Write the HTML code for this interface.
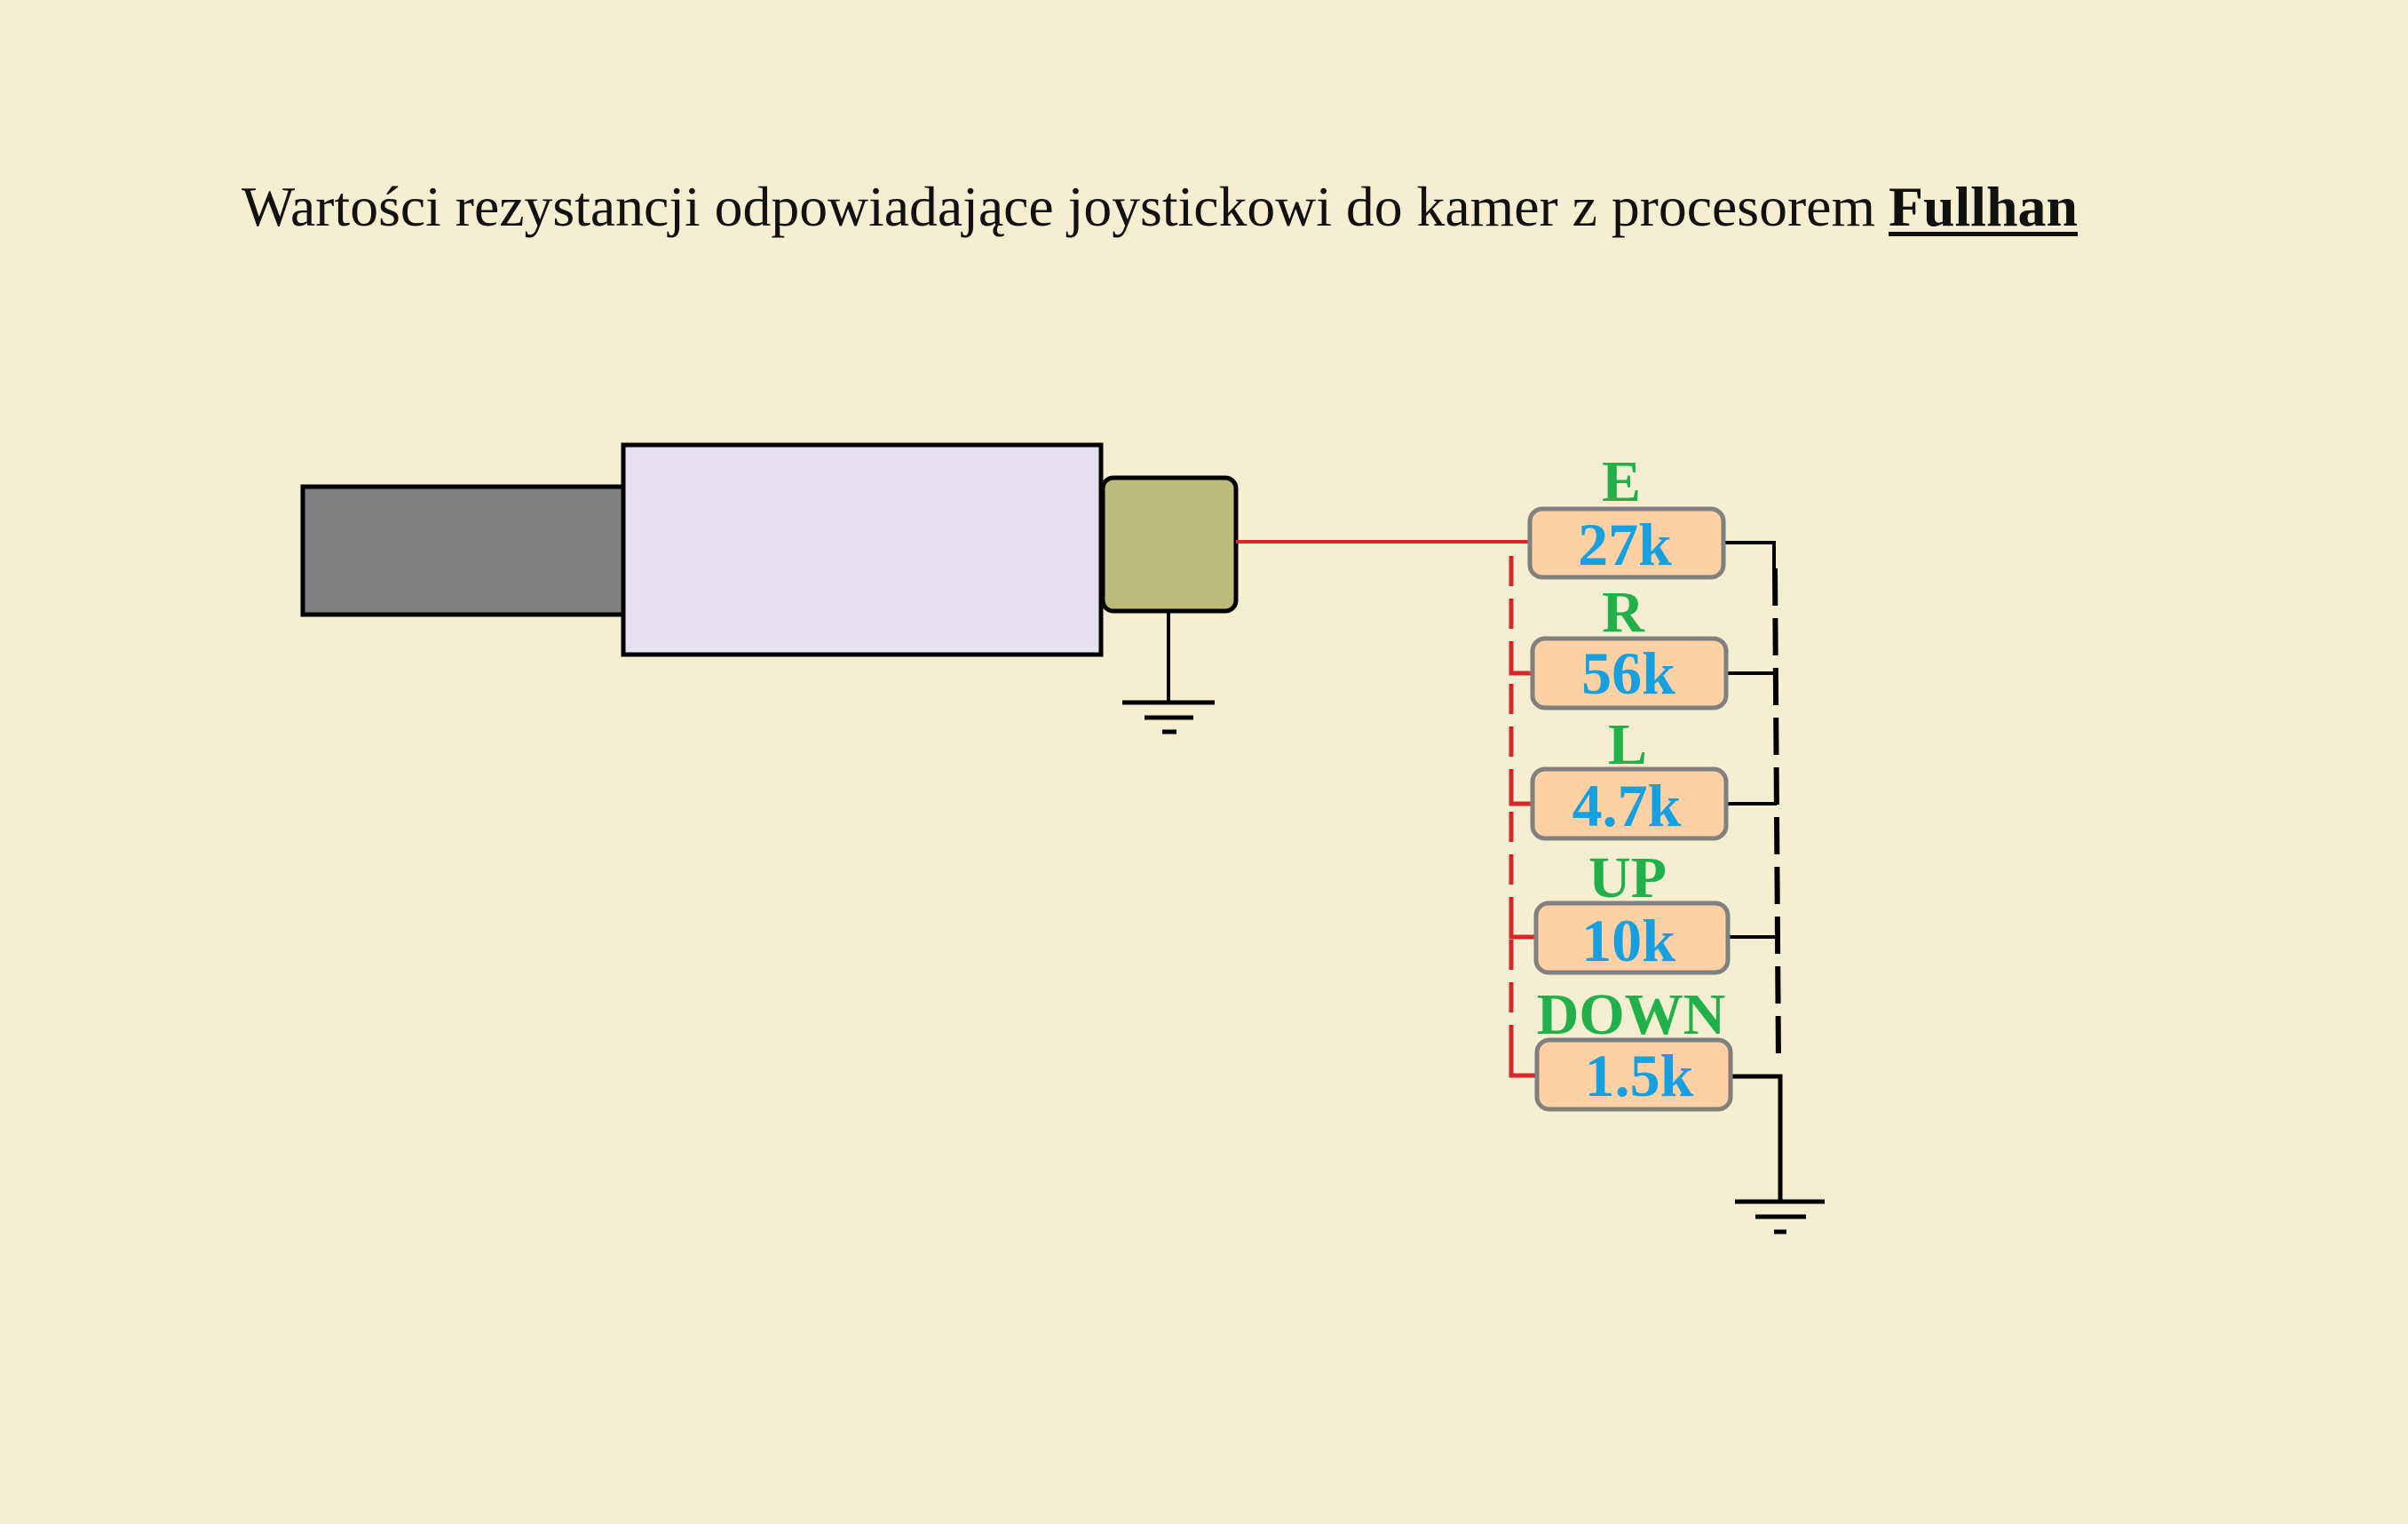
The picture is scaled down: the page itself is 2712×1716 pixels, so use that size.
<!DOCTYPE html>
<html><head><meta charset="utf-8"><style>
html,body{margin:0;padding:0;background:#f5efd1;}
svg{display:block}
</style></head><body>
<svg width="2712" height="1716" viewBox="0 0 2712 1716" xmlns="http://www.w3.org/2000/svg">
<rect width="2712" height="1716" fill="#f5efd1"/>
<text x="272" y="254" font-family="Liberation Serif, serif" font-size="64" fill="#111" textLength="1840" lengthAdjust="spacingAndGlyphs">Wartości rezystancji odpowiadające joystickowi do kamer z procesorem</text>
<text x="2127" y="254" font-family="Liberation Serif, serif" font-size="64" font-weight="bold" fill="#111" textLength="213" lengthAdjust="spacingAndGlyphs">Fullhan</text>
<rect x="2127" y="261" width="213" height="5" fill="#111"/>
<!-- plug -->
<rect x="341" y="548" width="361" height="144" fill="#808080" stroke="#000" stroke-width="5"/>
<rect x="702" y="501" width="538" height="236" fill="#e6e0f3" stroke="#000" stroke-width="5"/>
<rect x="1242" y="538" width="150" height="150" rx="12" fill="#bbbb7b" stroke="#000" stroke-width="5"/>
<line x1="1316" y1="688" x2="1316" y2="790" stroke="#000" stroke-width="4"/>
<line x1="1264" y1="791" x2="1368" y2="791" stroke="#000" stroke-width="5"/>
<line x1="1289" y1="808" x2="1344" y2="808" stroke="#000" stroke-width="5"/>
<line x1="1309" y1="824" x2="1325" y2="824" stroke="#000" stroke-width="5"/>
<!-- red wiring -->
<line x1="1392" y1="610" x2="1723" y2="610" stroke="#d8262a" stroke-width="4"/>
<line x1="1702" y1="626" x2="1702" y2="1211" stroke="#d8262a" stroke-width="5" stroke-dasharray="34,14"/>
<polyline points="1702,735 1702,758 1726,758" fill="none" stroke="#d8262a" stroke-width="5"/>
<polyline points="1702,882 1702,905 1726,905" fill="none" stroke="#d8262a" stroke-width="5"/>
<polyline points="1702,1032 1702,1055 1730,1055" fill="none" stroke="#d8262a" stroke-width="5"/>
<polyline points="1702,1180 1702,1211 1731,1211" fill="none" stroke="#d8262a" stroke-width="5"/>
<!-- black wiring -->
<polyline points="1941,611 1998,611 1998,640" fill="none" stroke="#000" stroke-width="4"/>
<line x1="1999" y1="640" x2="2003" y2="1195" stroke="#000" stroke-width="6" stroke-dasharray="42,14"/>
<line x1="1944" y1="758" x2="2000" y2="758" stroke="#000" stroke-width="4"/>
<line x1="1944" y1="905" x2="2001" y2="905" stroke="#000" stroke-width="4"/>
<line x1="1946" y1="1055" x2="2003" y2="1055" stroke="#000" stroke-width="4"/>
<polyline points="1949,1212 2005,1212 2005,1353" fill="none" stroke="#000" stroke-width="5"/>
<line x1="1954" y1="1353" x2="2055" y2="1353" stroke="#000" stroke-width="5"/>
<line x1="1977" y1="1370" x2="2034" y2="1370" stroke="#000" stroke-width="5"/>
<line x1="1998" y1="1387" x2="2012" y2="1387" stroke="#000" stroke-width="5"/>
<!-- resistors -->
<g fill="#fdd1a4" stroke="#808080" stroke-width="5">
<rect x="1723" y="573" width="218" height="77" rx="14"/>
<rect x="1726" y="719" width="218" height="78" rx="14"/>
<rect x="1726" y="866" width="218" height="78" rx="14"/>
<rect x="1730" y="1017" width="216" height="78" rx="14"/>
<rect x="1731" y="1171" width="218" height="78" rx="14"/>
</g>
<g font-family="Liberation Serif, serif" font-weight="bold" font-size="66" fill="#22b04b" text-anchor="middle">
<text x="1826" y="564">E</text>
<text x="1828" y="711">R</text>
<text x="1833" y="860">L</text>
<text x="1833" y="1010">UP</text>
<text x="1837" y="1164">DOWN</text>
</g>
<g font-family="Liberation Serif, serif" font-weight="bold" font-size="68" fill="#16a0e0" text-anchor="middle">
<text x="1830" y="636">27k</text>
<text x="1834" y="781">56k</text>
<text x="1832" y="930">4.7k</text>
<text x="1834" y="1082">10k</text>
<text x="1846" y="1234">1.5k</text>
</g>
</svg>
</body></html>
